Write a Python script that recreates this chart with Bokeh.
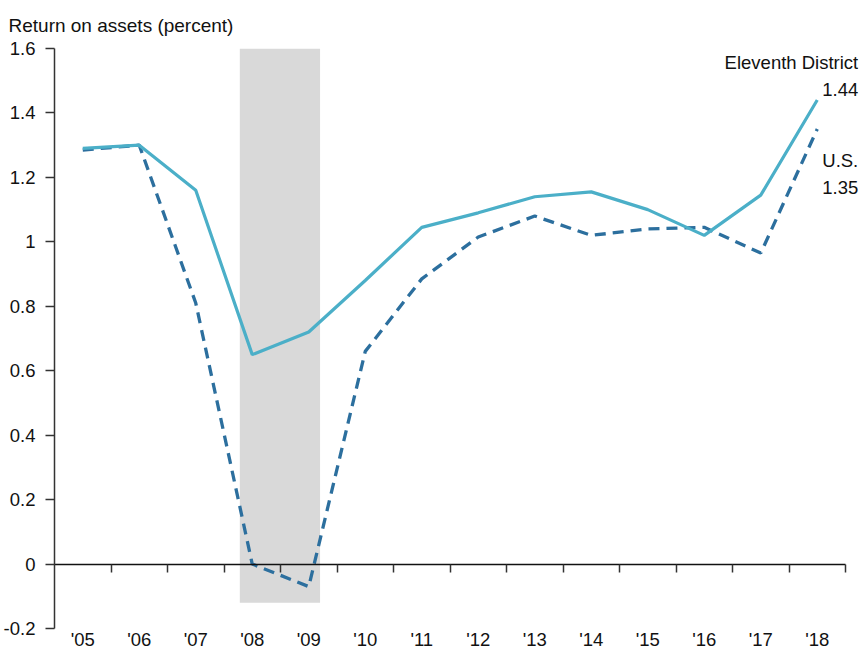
from bokeh.plotting import figure
from bokeh.models import (Range1d, LinearAxis, FixedTicker, Label, Title)
from bokeh.embed import file_html
from bokeh.resources import INLINE

# ---- data ----
years = ["'05", "'06", "'07", "'08", "'09", "'10", "'11", "'12", "'13", "'14", "'15", "'16", "'17", "'18"]
eleventh = [1.29, 1.30, 1.16, 0.65, 0.72, 0.88, 1.045, 1.09, 1.14, 1.155, 1.10, 1.02, 1.145, 1.44]
us = [1.285, 1.30, 0.81, 0.0, -0.07, 0.66, 0.885, 1.015, 1.08, 1.02, 1.04, 1.045, 0.965, 1.35]
y_ticks = [-0.2, 0.0, 0.2, 0.4, 0.6, 0.8, 1.0, 1.2, 1.4, 1.6]
y_tick_labels = ["-0.2", "0", "0.2", "0.4", "0.6", "0.8", "1", "1.2", "1.4", "1.6"]
recession_start = [2.78]
recession_end = [4.2]
recession_bottom = [-0.12]
recession_top = [1.6]

FONT = "Liberation Sans"
FS = "18.5px"
SOLID = "#4BAFC8"
DASHED = "#2C6F9E"
TXT = "#111111"

idx = list(range(len(years)))
boundaries = [i + 0.5 for i in idx]

p = figure(width=867, height=652, output_backend="svg", toolbar_location=None,
           x_range=Range1d(-0.5, 13.73), y_range=Range1d(-0.2, 1.6),
           min_border_left=54, min_border_right=9, min_border_top=48, min_border_bottom=22,
           x_axis_type=None, y_axis_type=None)
p.outline_line_color = None
p.xgrid.visible = False
p.ygrid.visible = False
p.background_fill_color = "white"
p.border_fill_color = "white"

p.title = Title(text="Return on assets (percent)", align="left", offset=-46,
                text_font=FONT, text_font_size="19px", text_font_style="normal",
                text_color=TXT, standoff=25)

# recession shading
p.quad(left=recession_start, right=recession_end, bottom=recession_bottom, top=recession_top,
       fill_color="#D9D9D9", line_color=None)

# y axis
yax = LinearAxis(ticker=FixedTicker(ticks=y_ticks))
yax.major_label_overrides = {t: l for t, l in zip(y_ticks, y_tick_labels)}
yax.axis_line_color = "#333333"
yax.axis_line_width = 1.5
yax.major_tick_line_color = "#333333"
yax.major_tick_line_width = 1.5
yax.major_tick_out = 9
yax.major_tick_in = 0
yax.minor_tick_line_color = None
yax.major_label_standoff = 10
yax.major_label_text_font = FONT
yax.major_label_text_font_size = FS
yax.major_label_text_color = TXT
p.add_layout(yax, "left")

# zero line axis with boundary ticks
zax = LinearAxis(ticker=FixedTicker(ticks=boundaries), fixed_location=0, bounds=(-0.5, 13.5))
zax.major_label_overrides = {t: "" for t in boundaries}
zax.axis_line_color = "#111111"
zax.axis_line_width = 1.5
zax.major_tick_line_color = "#333333"
zax.major_tick_line_width = 1.5
zax.major_tick_out = 8
zax.major_tick_in = 0
zax.minor_tick_line_color = None
p.add_layout(zax, "below")

# year labels axis at bottom
xax = LinearAxis(ticker=FixedTicker(ticks=idx))
xax.major_label_overrides = {i: y for i, y in zip(idx, years)}
xax.axis_line_color = None
xax.major_tick_line_color = None
xax.minor_tick_line_color = None
xax.major_tick_out = 0
xax.major_tick_in = 0
xax.major_label_standoff = 0
xax.major_label_text_font = FONT
xax.major_label_text_font_size = FS
xax.major_label_text_color = TXT
p.add_layout(xax, "below")

# lines
p.line(idx, us, line_color=DASHED, line_width=3.3, line_dash="11 7")
p.line(idx, eleventh, line_color=SOLID, line_width=3.2)

# end labels
last = len(years) - 1
def end_label(txt, yv, dy):
    p.add_layout(Label(x=last, y=yv, x_offset=41, y_offset=dy, text=txt,
                       text_font=FONT, text_font_size=FS, text_baseline="middle",
                       text_align="right", text_color=TXT))

end_label("Eleventh District", eleventh[last], 38)
end_label(f"{eleventh[last]:.2f}", eleventh[last], 11)
end_label("U.S.", us[last], -31)
end_label(f"{us[last]:.2f}", us[last], -58)

open("out.html", "w").write(file_html(p, INLINE))
